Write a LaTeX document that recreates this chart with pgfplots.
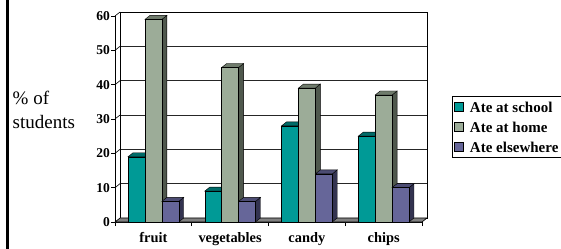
\documentclass[border=0pt]{standalone}
\usepackage{fontspec}
\setmainfont{Liberation Serif}
\usepackage{pgfplots}
\pgfplotsset{compat=1.18}
\usepackage{pgfplotstable}

\definecolor{tealF}{HTML}{009A96}
\definecolor{tealT}{HTML}{006B68}
\definecolor{tealS}{HTML}{004D4A}
\definecolor{greenF}{HTML}{9CAC98}
\definecolor{greenT}{HTML}{6F7B6C}
\definecolor{greenS}{HTML}{4F584D}
\definecolor{purpF}{HTML}{666699}
\definecolor{purpT}{HTML}{4C4C73}
\definecolor{purpS}{HTML}{333350}
\definecolor{floorC}{HTML}{808080}

\pgfplotstableread{
x school home elsewhere
0 19 59 6
1 9 45 6
2 28 39 14
3 25 37 10
}\datatable

\pgfplotsset{
  bar3d/.style n args={4}{
    scatter, only marks, mark=*, mark size=0.1pt,
    visualization depends on={rawy \as \barval},
    scatter/@pre marker code/.code={%
      \pgfmathsetlengthmacro{\barh}{\barval*3.43333bp}%
      \filldraw[fill=#4,draw=black,line width=0.4bp] (#1+8.45bp,0pt) -- ++(5bp,4bp) -- ++(0pt,-\barh) -- ++(-5bp,-4bp) -- cycle;
      \filldraw[fill=#3,draw=black,line width=0.4bp] (#1-8.45bp,0pt) -- ++(16.9bp,0pt) -- ++(5bp,4bp) -- ++(-16.9bp,0pt) -- cycle;
      \filldraw[fill=#2,draw=black,line width=0.4bp] (#1-8.45bp,-\barh) rectangle (#1+8.45bp,0pt);
      \scope[opacity=0]%
    },
    scatter/@post marker code/.code={\endscope},
    legend image code/.code={\draw[fill=#2,draw=black,line width=0.6bp] (0bp,-4.5bp) rectangle (9.5bp,4.5bp);},
  },
}

\begin{document}
\begin{tikzpicture}
\useasboundingbox (0,0) rectangle (561bp,249bp);
\draw[black, line width=2.4bp] (7.5bp,0) -- (7.5bp,249bp);
\node[anchor=west, align=left, inner sep=0pt, font=\fontsize{19bp}{24bp}\selectfont] at (12.5bp,139bp) {\% of\\students};

% back wall
\begin{axis}[
  at={(120bp,31bp)}, anchor=south west, scale only axis,
  width=307bp, height=206bp,
  xmin=-0.5, xmax=3.5, ymin=0, ymax=60,
  xtick=\empty, ytick={10,20,...,50}, yticklabels={}, major tick length=0pt,
  ymajorgrids, grid style={black!85, line width=0.6bp},
  axis line style={black, line width=0.8bp},
]
\end{axis}

% front
\begin{axis}[
  at={(115bp,27bp)}, anchor=south west, scale only axis,
  width=307bp, height=206bp,
  xmin=-0.5, xmax=3.5, ymin=0, ymax=60, clip=false,
  axis x line*=bottom, axis y line*=left,
  xtick={-0.5,0.5,1.5,2.5,3.5}, xticklabels={},
  extra x ticks={0,1,2,3},
  extra x tick labels={fruit,vegetables,candy,chips},
  extra x tick style={major tick length=0pt},
  ytick={0,10,...,60},
  yticklabel={\pgfmathprintnumber[assume math mode=true]{\tick}},
  tick align=outside, major tick length=4bp,
  tick style={black, line width=0.6bp},
  axis line style={black, line width=0.8bp},
  xticklabel style={font=\fontsize{14.4bp}{16bp}\selectfont\bfseries, yshift=-7bp},
  yticklabel style={font=\fontsize{13.5bp}{16bp}\selectfont\bfseries, inner sep=1bp},
  /pgf/number format/assume math mode=true,
  legend style={at={(1.0977,0.6117)}, anchor=north west, draw=black, line width=0.8bp,
    font=\fontsize{15bp}{16bp}\selectfont\bfseries,
    inner xsep=1.5bp, inner ysep=2.5bp, row sep=4bp,
    nodes={inner sep=1bp, text height=12.5bp, text depth=1.5bp},
    /tikz/every odd column/.append style={column sep=5bp}},
  legend cell align=left,
]
\filldraw[fill=floorC, draw=black, line width=0.6bp] (axis cs:-0.5,0) -- (axis cs:3.5,0) -- ++(5bp,4bp) -- ([shift={(5bp,4bp)}]axis cs:-0.5,0) -- cycle;
\pgfplotsinvokeforeach{10,20,...,60}{\draw[black, line width=0.6bp] (axis cs:-0.5,#1) -- ++(5bp,4bp);}
\addplot[bar3d={-16.9bp}{tealF}{tealT}{tealS}] table[x=x, y=school] {\datatable};
\addlegendentry{Ate at school}
\addplot[bar3d={0bp}{greenF}{greenT}{greenS}] table[x=x, y=home] {\datatable};
\addlegendentry{Ate at home}
\addplot[bar3d={16.9bp}{purpF}{purpT}{purpS}] table[x=x, y=elsewhere] {\datatable};
\addlegendentry{Ate elsewhere}
\end{axis}
\end{tikzpicture}
\end{document}
